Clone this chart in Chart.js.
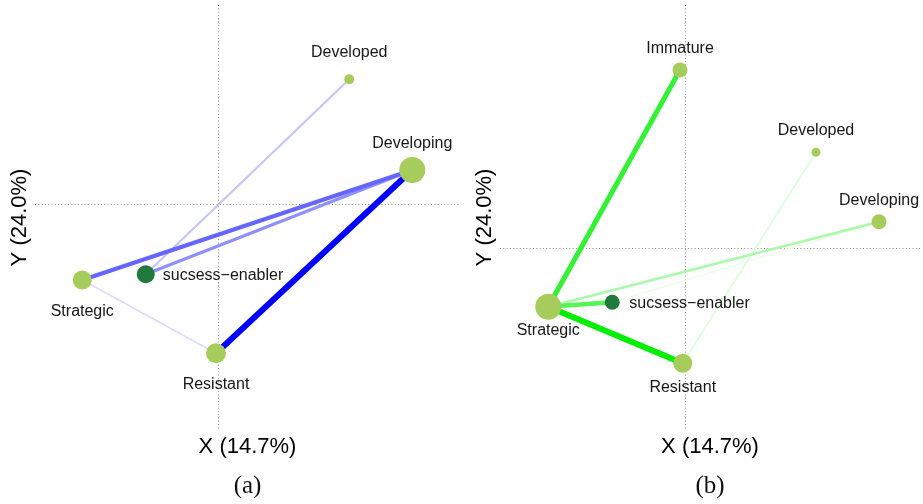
<!DOCTYPE html>
<html>
<head>
<meta charset="utf-8">
<script src="https://cdn.jsdelivr.net/npm/chart.js@4/dist/chart.umd.min.js"></script>
<style>
  html, body { margin: 0; padding: 0; background: #ffffff; }
  .row { display: flex; width: 923px; height: 504px; }
  canvas { display: block; }
</style>
</head>
<body>
<div class="row">
  <canvas id="panelA" width="461" height="504"></canvas>
  <canvas id="panelB" width="462" height="504"></canvas>
</div>
<script>
// ---- Panel (a): blue network ----
const nodeNamesA = ['Developed', 'Developing', 'Strategic', 'sucsess\u2212enabler', 'Resistant'];
const nodeXA = [0.525, 0.777, -0.543, -0.289, -0.008];
const nodeYA = [0.499, 0.136, -0.304, -0.281, -0.597];
const edgeFromA = ['Developing', 'Developing', 'Developing', 'Developed', 'Strategic'];
const edgeToA = ['Resistant', 'Strategic', 'sucsess\u2212enabler', 'sucsess\u2212enabler', 'Resistant'];
const edgeWeightA = [1.0, 0.6, 0.44, 0.23, 0.14];

// ---- Panel (b): green network ----
const nodeNamesB = ['Immature', 'Developed', 'Developing', 'Strategic', 'sucsess\u2212enabler', 'Resistant'];
const nodeXB = [-0.020, 0.524, 0.776, -0.547, -0.291, -0.009];
const nodeYB = [0.712, 0.383, 0.105, -0.235, -0.217, -0.461];
const edgeFromB = ['Strategic', 'Strategic', 'Strategic', 'Strategic', 'Developed', 'sucsess\u2212enabler'];
const edgeToB = ['Resistant', 'Immature', 'sucsess\u2212enabler', 'Developing', 'Resistant', 'Developing'];
const edgeWeightB = [1.0, 0.8, 0.67, 0.33, 0.13, 0.08];

// shared axis titles
const axisTitleX = 'X (14.7%)';
const axisTitleY = 'Y (24.0%)';

// ---- styling ----
const nodeRadiusA = [5, 13, 9.5, 9, 10];
const nodeRadiusB = [7.5, 4.5, 7.5, 13, 7.5, 9.5];
const labelSideA = ['above', 'above', 'below', 'right', 'below'];
const labelSideB = ['above', 'above', 'above', 'below', 'right', 'below'];
const NODE_GREEN = '#a6cc5c';
const ENABLER_GREEN = '#1f7a3b';

function blueEdge(w) {
  const c = Math.round(255 * (1 - w));
  return `rgb(${c},${c},255)`;
}
function greenEdge(w) {
  const c = Math.round(255 * (1 - w));
  const g = Math.round(238 + 17 * (1 - w));
  return `rgb(${c},${g},${c})`;
}

// draws each node's name next to its marker
const nodeLabels = {
  id: 'nodeLabels',
  afterDatasetsDraw(chart, args, opts) {
    const meta = chart.getDatasetMeta(0);
    const ctx = chart.ctx;
    ctx.save();
    ctx.font = '16px "Liberation Sans", Arial, sans-serif';
    ctx.fillStyle = '#161616';
    meta.data.forEach((pt, i) => {
      const side = opts.sides[i];
      const name = opts.names[i];
      if (side === 'right') {
        ctx.textAlign = 'left';
        ctx.textBaseline = 'middle';
        ctx.fillText(name, pt.x + opts.gapRight, pt.y + 1);
      } else if (side === 'above') {
        ctx.textAlign = 'center';
        ctx.textBaseline = 'alphabetic';
        ctx.fillText(name, pt.x, pt.y - opts.gapAbove);
      } else {
        ctx.textAlign = 'center';
        ctx.textBaseline = 'alphabetic';
        ctx.fillText(name, pt.x, pt.y + opts.gapBelow);
      }
    });
    ctx.restore();
  }
};

function buildPanel(canvasId, cfg) {
  const idx = name => cfg.names.indexOf(name);
  const edgeSets = cfg.from.map((f, k) => {
    const a = idx(f), b = idx(cfg.to[k]);
    const w = cfg.weights[k];
    return {
      data: [{ x: cfg.xs[a], y: cfg.ys[a] }, { x: cfg.xs[b], y: cfg.ys[b] }],
      showLine: true,
      borderColor: cfg.edgeColor(w),
      borderWidth: 1 + 5 * w,
      pointRadius: 0,
      pointHoverRadius: 0,
      borderCapStyle: 'butt',
      order: 1 + (1 - w)
    };
  });
  const nodeSet = {
    data: cfg.names.map((n, i) => ({ x: cfg.xs[i], y: cfg.ys[i] })),
    pointRadius: cfg.radius,
    pointHoverRadius: cfg.radius,
    pointBackgroundColor: cfg.names.map(n => n.startsWith('sucsess') ? ENABLER_GREEN : NODE_GREEN),
    pointBorderWidth: 0,
    borderWidth: 0,
    order: 0
  };
  const zeroOnly = s => { s.ticks = [{ value: 0 }]; };
  const axisCommon = {
    type: 'linear',
    afterBuildTicks: zeroOnly,
    grid: { color: '#8a8a8a', lineWidth: 1, drawTicks: false },
    border: { display: false, dash: [1, 2.3] },
    ticks: { display: false }
  };
  return new Chart(document.getElementById(canvasId), {
    type: 'scatter',
    data: { datasets: [nodeSet, ...edgeSets] },
    options: {
      responsive: false,
      animation: false,
      events: [],
      layout: { padding: cfg.padding, autoPadding: false },
      scales: {
        x: Object.assign({}, axisCommon, {
          min: cfg.xRange[0], max: cfg.xRange[1],
          title: { display: true, text: axisTitleX, color: '#000',
                   font: { family: '"Liberation Sans", Arial, sans-serif', size: 22 },
                   padding: { top: 4, bottom: 4 } }
        }),
        y: Object.assign({}, axisCommon, {
          min: cfg.yRange[0], max: cfg.yRange[1],
          title: { display: true, text: axisTitleY, color: '#000',
                   font: { family: '"Liberation Sans", Arial, sans-serif', size: 22 },
                   padding: { top: 6.5, bottom: 1.5 } }
        })
      },
      plugins: {
        legend: { display: false },
        tooltip: { enabled: false },
        title: {
          display: true, position: 'bottom', fullSize: false, text: cfg.caption,
          color: '#111',
          font: { family: '"Liberation Serif", "DejaVu Serif", serif', size: 25, weight: 'normal' },
          padding: { top: 7, bottom: 0 }
        },
        nodeLabels: { names: cfg.names, sides: cfg.sides,
                      gapAbove: cfg.gapAbove, gapBelow: cfg.gapBelow, gapRight: 17 }
      }
    },
    plugins: [nodeLabels]
  });
}

buildPanel('panelA', {
  names: nodeNamesA, xs: nodeXA, ys: nodeYA,
  from: edgeFromA, to: edgeToA, weights: edgeWeightA,
  radius: nodeRadiusA, sides: labelSideA,
  edgeColor: blueEdge,
  xRange: [-0.732, 0.968], yRange: [-0.904, 0.796],
  padding: { left: 0.6, right: 1, top: 5, bottom: 2.6 },
  gapAbove: 22, gapBelow: 36, caption: '(a)'
});

buildPanel('panelB', {
  names: nodeNamesB, xs: nodeXB, ys: nodeYB,
  from: edgeFromB, to: edgeToB, weights: edgeWeightB,
  radius: nodeRadiusB, sides: labelSideB,
  edgeColor: greenEdge,
  xRange: [-0.740, 0.940], yRange: [-0.728, 0.972],
  padding: { left: 4.6, right: 3, top: 5, bottom: 2.6 },
  gapAbove: 17, gapBelow: 28.5, caption: '(b)'
});
</script>
</body>
</html>
